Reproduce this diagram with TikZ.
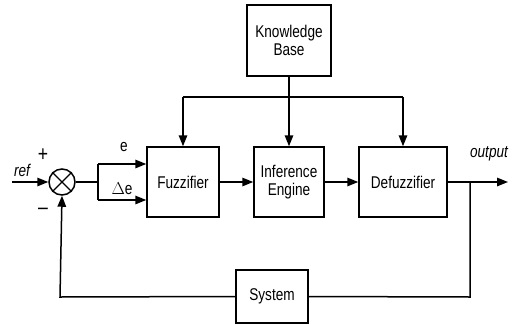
\documentclass[tikz,border=0pt]{standalone}
\usepackage{fontspec}
\setmainfont{Liberation Sans}[FakeStretch=0.8]
\usetikzlibrary{arrows.meta}
\begin{document}
\begin{tikzpicture}[x=1pt,y=-1pt,
  line width=1.5pt,
  blk/.style={draw,line width=1.5pt,inner sep=0pt,font=\fontsize{17}{18}\selectfont,align=center},
  arr/.style={-{Triangle[length=11pt,width=8.5pt]}},
  lbl/.style={font=\fontsize{17}{18}\selectfont,inner sep=0pt}]
\useasboundingbox (0,0) rectangle (516,324);
\node[blk,minimum width=84pt,minimum height=71pt] (kb) at (289,40.5) {Knowledge\\Base};
\node[blk,minimum width=72pt,minimum height=70pt] (fz) at (183,182) {Fuzzifier};
\node[blk,minimum width=70pt,minimum height=70pt] (ie) at (289,182) {Inference\\Engine};
\node[blk,minimum width=88pt,minimum height=70pt] (dz) at (403,182) {Defuzzifier};
\node[blk,minimum width=72pt,minimum height=53pt] (sys) at (272,296.5) {System};
\node[draw,circle,minimum size=26pt,inner sep=0pt] (sum) at (62,182) {};
\draw[line width=1.2pt] (sum.north west) -- (sum.south east) (sum.north east) -- (sum.south west);
\coordinate (refin) at (12,182);
\coordinate (out) at (508,182);
\coordinate (split) at (98,182);
\coordinate (tap) at (470,182);
\coordinate (kbbus) at (289,97);
\coordinate (fbl) at (60,297);
\coordinate (fbr) at (470,297);
% reference input
\draw[arr] (refin) -- (sum.west);
\node[lbl,font=\fontsize{17}{18}\selectfont\itshape] at (22,170) {ref};
\node[lbl,font=\fontsize{22}{22}\selectfont] at (43,155) {+};
\node[lbl,font=\fontsize{22}{22}\selectfont] at (43,211) {\textendash};
% error split
\draw (sum.east) -- (split);
\draw (98,164) -- (98,200);
\draw[arr] (98,164) -- (fz.west |- 0,164);
\draw[arr] (98,200) -- (fz.west |- 0,200);
\node[lbl] at (124,147) {e};
\node[lbl] at (122,189) {$\Delta$e};
% chain
\draw[arr] (fz.east) -- (ie.west);
\draw[arr] (ie.east) -- (dz.west);
\draw[arr] (dz.east) -- (out);
\node[lbl,font=\fontsize{17}{18}\selectfont\itshape] at (489,154) {output};
% knowledge base bus
\draw (kb.south) -- (kbbus);
\draw (fz.north |- kbbus) -- (dz.north |- kbbus);
\draw[arr] (fz.north |- kbbus) -- (fz.north);
\draw[arr] (kbbus) -- (ie.north);
\draw[arr] (dz.north |- kbbus) -- (dz.north);
% feedback
\draw (tap) -- (fbr) -- (sys.east);
\draw[arr] (sys.west) -- (fbl) -- (sum.south);
\end{tikzpicture}
\end{document}
